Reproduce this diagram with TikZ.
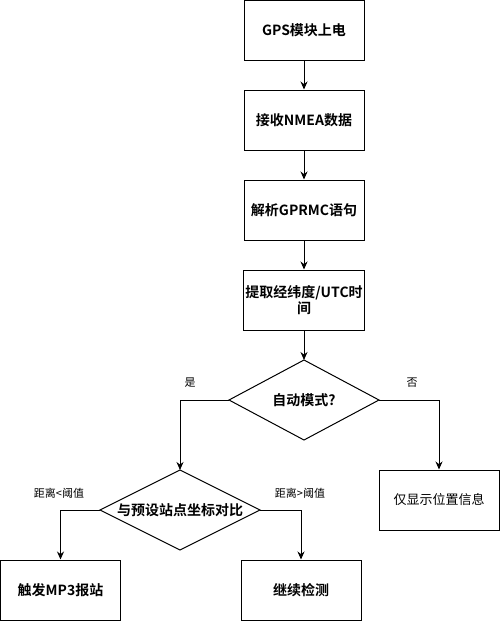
\documentclass[tikz,border=0pt]{standalone}
\usepackage{fontspec}
\setmainfont{Noto Sans CJK SC}[BoldFont={Noto Sans CJK SC Bold}]
\usetikzlibrary{arrows.meta}
\begin{document}
\begin{tikzpicture}[x=1pt,y=-1pt,
  proc/.style={draw,line width=1pt,minimum width=120pt,minimum height=60pt,inner sep=2pt,align=center,font=\fontsize{14}{16}\selectfont\bfseries},
  plain/.style={draw,line width=1pt,minimum width=120pt,minimum height=60pt,align=center,font=\fontsize{13}{15}\selectfont},
  dectext/.style={inner sep=0pt,font=\fontsize{14}{16}\selectfont\bfseries},
  decline/.style={draw,line width=1pt},
  lbl/.style={font=\fontsize{11}{13}\selectfont},
  arr/.style={line width=1pt,-{Stealth[length=8pt,width=7pt]}}]
\useasboundingbox (0,0) rectangle (500,621);
\node[proc] (a) at (304,30.5) {GPS模块上电};
\node[proc] (b) at (304,120) {接收NMEA数据};
\node[proc] (c) at (304,210) {解析GPRMC语句};
\node[proc] (d) at (304,300) {提取经纬度/UTC时\\间};
\node[dectext] (e) at (304,400) {自动模式?};
\node[plain] (f) at (439,500) {仅显示位置信息};
\node[dectext] (g) at (180,510) {与预设站点坐标对比};
\node[proc] (h) at (60.5,590) {触发MP3报站};
\node[proc] (i) at (301,590) {继续检测};
\coordinate (eT) at (304,360);
\coordinate (eB) at (304,440);
\coordinate (eL) at (229,400);
\coordinate (eR) at (379,400);
\coordinate (gT) at (180,470);
\coordinate (gB) at (180,550);
\coordinate (gL) at (100,510);
\coordinate (gR) at (260,510);
\draw[decline] (eT) -- (eR) -- (eB) -- (eL) -- cycle;
\draw[decline] (gT) -- (gR) -- (gB) -- (gL) -- cycle;
\draw[arr] (a) -- (b);
\draw[arr] (b) -- (c);
\draw[arr] (c) -- (d);
\draw[arr] (d.south) -- (eT);
\draw[arr] (eL) -| (gT);
\draw[arr] (eR) -| (f.north);
\draw[arr] (gL) -| (h.north);
\draw[arr] (gR) -| (i.north);
\node[lbl] at (190,383) {是};
\node[lbl] at (412,383) {否};
\node[lbl] at (59,493) {距离<阈值};
\node[lbl] at (300,493) {距离>阈值};
\end{tikzpicture}
\end{document}
